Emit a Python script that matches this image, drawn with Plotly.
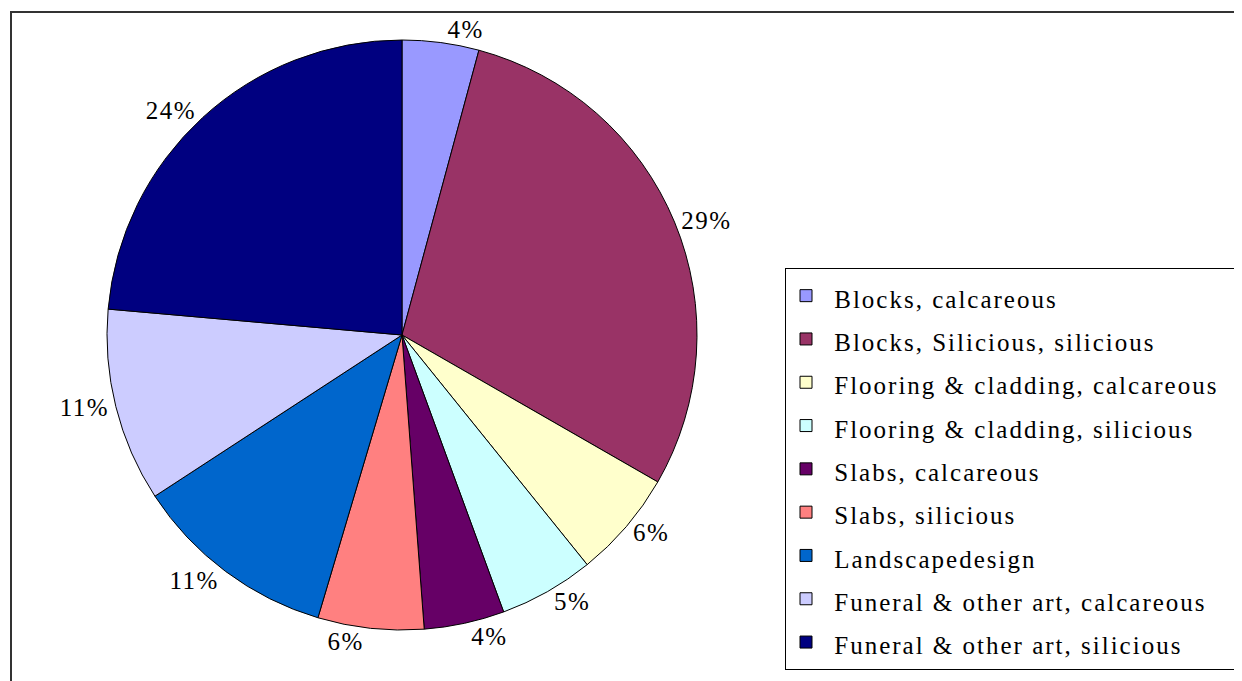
import plotly.graph_objects as go

labels = ['Blocks, calcareous', 'Blocks, Silicious, silicious', 'Flooring & cladding, calcareous',
          'Flooring & cladding, silicious', 'Slabs, calcareous', 'Slabs, silicious',
          'Landscapedesign', 'Funeral & other art, calcareous', 'Funeral & other art, silicious']
values = [4.2, 29.1, 5.9, 5.2, 4.4, 5.8, 11.2, 10.6, 23.6]
colors = ['#9999FF', '#993366', '#FFFFCC', '#CCFFFF', '#660066',
          '#FF8080', '#0066CC', '#CCCCFF', '#000080']

serif = 'Liberation Serif, Times New Roman, serif'
W, H = 1242, 681

# page body has an 8px margin, so pixel targets are shifted by -8
# trailing nbsp pads the legend box out to the right edge like the original
legend_labels = ['<span style="font-size:25px;letter-spacing:2px">\u00a0%s\u00a0\u00a0</span>' % l
                 for l in labels]

fig = go.Figure(go.Pie(
    labels=legend_labels,
    values=values,
    sort=False,
    direction='clockwise',
    rotation=0,
    marker=dict(colors=colors, line=dict(color='black', width=1)),
    texttemplate='<span style="letter-spacing:1.5px">%{percent:.0%}</span>',
    textposition='outside',
    textfont=dict(family=serif, size=25, color='black'),
    domain=dict(x=[99 / W, 689 / W], y=[59 / H, 649 / H]),
    hoverinfo='label+percent',
))

fig.update_layout(
    width=W, height=H,
    paper_bgcolor='white',
    plot_bgcolor='white',
    margin=dict(l=0, r=0, t=0, b=0, autoexpand=False),
    showlegend=True,
    legend=dict(
        x=777 / W, y=1 - 260 / H, xanchor='left', yanchor='top',
        bgcolor='white', bordercolor='black', borderwidth=1,
        font=dict(family=serif, size=31, color='black'),
    ),
    shapes=[dict(type='rect', xref='paper', yref='paper',
                 x0=3 / W, x1=1.05, y0=-0.05, y1=1 - 4 / H,
                 line=dict(color='#333', width=2), layer='below')],
)

fig.write_html('out.html')
